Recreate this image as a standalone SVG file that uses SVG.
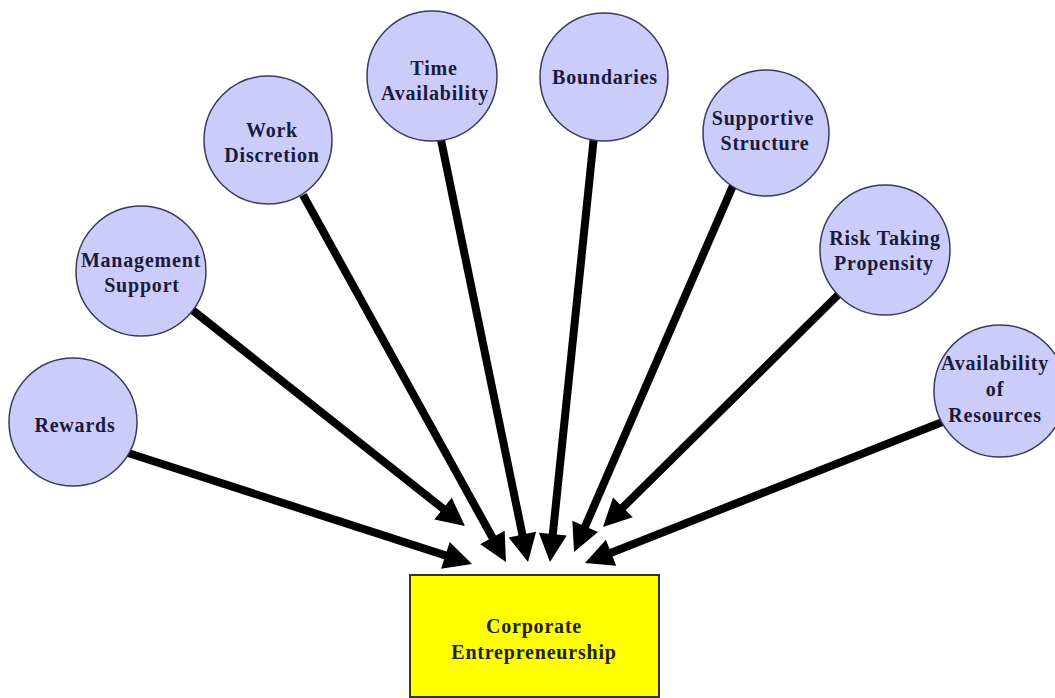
<svg xmlns="http://www.w3.org/2000/svg" width="1055" height="698" viewBox="0 0 1055 698">
<style>
.node circle{fill:#ccccfa;stroke:#3a3a5a;stroke-width:1.5}
.node text,.box text{font-family:"Liberation Serif","Times New Roman",serif;font-weight:bold;font-size:20px;letter-spacing:0.8px;fill:#1a1a3c;text-anchor:middle}
.box text{fill:#222}
#connectors line{stroke:#000;stroke-width:8;stroke-linecap:butt}
</style>
<defs>
<marker id="ah" markerUnits="userSpaceOnUse" markerWidth="36" markerHeight="36" viewBox="-12 -18 36 36" refX="0" refY="0" orient="auto">
<path d="M-8,-14 L20,0 L-8,14 z" fill="#000"/>
</marker>
</defs>
<rect width="1055" height="698" fill="#fff"/>
<g id="connectors">
<line x1="125" y1="452" x2="453" y2="557.9" marker-end="url(#ah)"/>
<line x1="186" y1="305" x2="449.3" y2="513.6" marker-end="url(#ah)"/>
<line x1="303" y1="195" x2="496.3" y2="544.5" marker-end="url(#ah)"/>
<line x1="440" y1="135" x2="524" y2="542.4" marker-end="url(#ah)"/>
<line x1="594" y1="136" x2="552" y2="542.1" marker-end="url(#ah)"/>
<line x1="735" y1="181" x2="582" y2="533.7" marker-end="url(#ah)"/>
<line x1="840" y1="293" x2="617.2" y2="513" marker-end="url(#ah)"/>
<line x1="945" y1="421" x2="603.6" y2="555.7" marker-end="url(#ah)"/>
</g>
<g id="rewards" class="node"><circle cx="73" cy="422" r="64"/><text x="75" y="432">Rewards</text></g>
<g id="management-support" class="node"><circle cx="141" cy="271" r="65"/><text x="141" y="267">Management</text><text x="142" y="292">Support</text></g>
<g id="work-discretion" class="node"><circle cx="268" cy="140" r="64"/><text x="272" y="137">Work</text><text x="272" y="162">Discretion</text></g>
<g id="time-availability" class="node"><circle cx="432" cy="76" r="65"/><text x="434" y="75">Time</text><text x="435" y="100">Availability</text></g>
<g id="boundaries" class="node"><circle cx="604" cy="77" r="64"/><text x="605" y="84">Boundaries</text></g>
<g id="supportive-structure" class="node"><circle cx="766" cy="133" r="63"/><text x="763" y="125">Supportive</text><text x="765" y="150">Structure</text></g>
<g id="risk-taking-propensity" class="node"><circle cx="885" cy="250" r="65"/><text x="885" y="245">Risk Taking</text><text x="884" y="270">Propensity</text></g>
<g id="availability-of-resources" class="node"><circle cx="1000" cy="391" r="66"/><text x="995" y="370">Availability</text><text x="995" y="396">of</text><text x="995" y="422">Resources</text></g>
<g id="corporate-entrepreneurship" class="box"><rect x="410" y="575" width="249" height="122" fill="#ffff00" stroke="#333" stroke-width="2"/><text x="534" y="633">Corporate</text><text x="534" y="659">Entrepreneurship</text></g>
</svg>
